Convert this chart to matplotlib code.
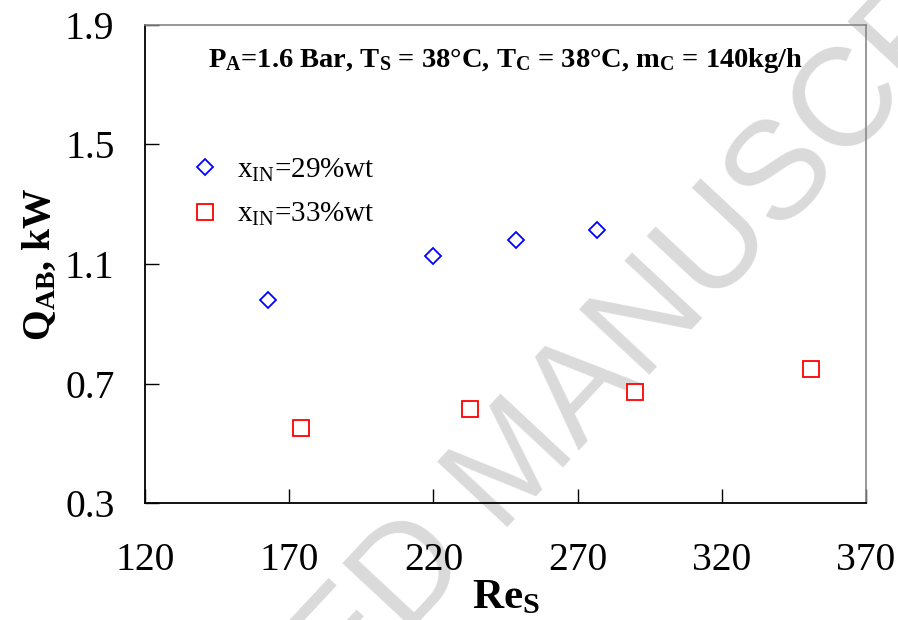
import numpy as np
import matplotlib.pyplot as plt

plt.rcParams['font.family'] = ['Liberation Serif', 'DejaVu Serif']
plt.rcParams['mathtext.fontset'] = 'custom'
plt.rcParams['mathtext.rm'] = 'Liberation Serif'
plt.rcParams['mathtext.bf'] = 'Liberation Serif:bold'
plt.rcParams['mathtext.it'] = 'Liberation Serif:italic'

# Re_S and Q_AB readings
re_29 = [162.7, 220.0, 248.8, 276.6]
q_29 = [0.98, 1.127, 1.18, 1.213]
re_33 = [174.2, 232.8, 290.0, 350.9]
q_33 = [0.55, 0.613, 0.673, 0.747]

x_ticks = [120, 170, 220, 270, 320, 370]
y_ticks = [0.3, 0.7, 1.1, 1.5, 1.9]

fig = plt.figure(figsize=(8.98, 6.2), dpi=100)
ax = fig.add_axes([0.1615, 0.1887, 0.8029, 0.771])

# watermark (behind the data)
fig.text(0.575, 0.25, 'ACCEPTED MANUSCRIPT', fontsize=100, color='#dadada',
         rotation=47, ha='center', va='center', fontfamily='Liberation Sans',
         zorder=0.5)
ax.set_zorder(1)
ax.patch.set_alpha(0)

ax.plot(re_29, q_29, linestyle='none', marker='D', markersize=8,
        markerfacecolor='white', markeredgecolor='blue', markeredgewidth=1.3,
        label=r'x$_{\mathrm{IN}}$=29%wt')
ax.plot(re_33, q_33, linestyle='none', marker='s', markersize=11,
        markerfacecolor='white', markeredgecolor='red', markeredgewidth=1.3,
        label=r'x$_{\mathrm{IN}}$=33%wt')

ax.set_xlim(120, 370)
ax.set_ylim(0.3, 1.9)
ax.set_xticks(x_ticks)
ax.set_yticks(y_ticks)
ax.set_yticklabels(['%.1f' % v for v in y_ticks])
ax.tick_params(direction='in', length=10, width=1, labelsize=28.5, pad=22)
ax.tick_params(axis='x', pad=28)
ax.tick_params(top=False, right=False)

for s in ['top', 'right']:
    ax.spines[s].set_color('#888888')
    ax.spines[s].set_linewidth(1.2)
for s in ['left', 'bottom']:
    ax.spines[s].set_linewidth(1.3)

ax.set_xlabel(r'$\mathbf{Re_S}$', fontsize=31, labelpad=0)
ax.set_ylabel(r'$\mathbf{Q_{AB}}$, kW', fontsize=28.5, fontweight='bold', labelpad=4)

ax.text(0.5, 0.925,
        r'$\mathbf{P_A}$=1.6 Bar, $\mathbf{T_S}$ = 38°C, $\mathbf{T_C}$ = 38°C, $\mathbf{m_C}$ = 140kg/h',
        transform=ax.transAxes, ha='center', va='center', fontsize=20.5, fontweight='bold')

ax.legend(loc='upper left', bbox_to_anchor=(0.022, 0.78), frameon=False,
          fontsize=21, handletextpad=0.5, labelspacing=0.6, handlelength=1.2)

plt.savefig('out.png', dpi=100)
